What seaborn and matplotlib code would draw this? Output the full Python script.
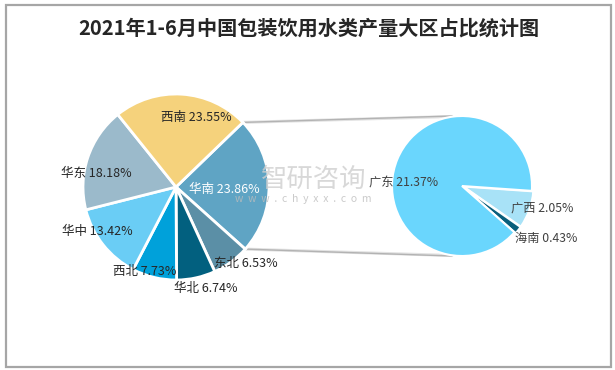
import matplotlib
matplotlib.use("Agg")
import matplotlib.pyplot as plt
from matplotlib.patches import Rectangle
import seaborn as sns
import numpy as np
import pandas as pd

# main pie: regions (clockwise from 华南)
regions = ["华南", "东北", "华北", "西北", "华中", "华东", "西南"]
shares = [23.86, 6.53, 6.74, 7.73, 13.42, 18.18, 23.55]
region_colors = ["#5FA4C4", "#5B8FA6", "#02607F", "#00A1DA", "#6ACDF5", "#9BBACB", "#F5D27C"]

# secondary pie: provinces of 华南
provinces = ["广西", "海南", "广东"]
prov_shares = [2.05, 0.43, 21.37]
prov_colors = ["#A8E2F7", "#0A5F7C", "#6AD6FD"]

title = "2021年1-6月中国包装饮用水类产量大区占比统计图"

main = pd.DataFrame({"region": regions, "share": shares, "color": region_colors})
sub = pd.DataFrame({"province": provinces, "share": prov_shares, "color": prov_colors})

sns.set_theme(style="white")
plt.rcParams["font.family"] = ["Noto Sans CJK SC", "DejaVu Sans"]

fig = plt.figure(figsize=(6.15, 3.7), dpi=100)
ax = fig.add_axes([0, 0, 1, 1])
ax.axis("off")

# frame around the chart
fig.patches.append(Rectangle((6 / 615, 3 / 370), 605 / 615, 362 / 370, transform=fig.transFigure,
                             fill=False, edgecolor="#a6a6a6", lw=1.6))

c1, r1 = (176, 183), 93
c2, r2 = (462, 184), 70
start1 = 44
start2 = -4

wedges1, _ = ax.pie(main["share"], colors=main["color"], startangle=start1, counterclock=False,
                    center=c1, radius=r1, wedgeprops=dict(edgecolor="white", linewidth=2))
wedges2, _ = ax.pie(sub["share"], colors=sub["color"], startangle=start2, counterclock=False,
                    center=c2, radius=r2, explode=[1.5, 1.5, 0],
                    wedgeprops=dict(edgecolor="white", linewidth=1.5))
ax.set_xlim(0, 615)
ax.set_ylim(0, 370)
ax.set_aspect("equal")

# watermark
ax.text(314, 191, "智研咨询", fontsize=19, color="#cfcfcf", ha="center", va="center", alpha=0.8, zorder=5)
ax.text(303, 171, "w  w  w  .  c  h  y  x  x  .  c  o  m", fontsize=7.5, color="#bdbdbd",
        ha="center", va="center", alpha=0.8, zorder=5)

# connector lines between the 华南 wedge and the secondary pie
a_top = np.deg2rad(start1)
a_bot = np.deg2rad(start1 - shares[0] / 100 * 360)
p_top = (c1[0] + r1 * np.cos(a_top), c1[1] + r1 * np.sin(a_top))
p_bot = (c1[0] + r1 * np.cos(a_bot), c1[1] + r1 * np.sin(a_bot))
for p, sgn in [(p_top, 1), (p_bot, -1)]:
    ax.plot([p[0], c2[0] - 10], [p[1], c2[1] + sgn * (r2 - 0.5)], color="#e2e2e2", lw=2.2, zorder=0)
    ax.plot([p[0], c2[0] - 10], [p[1], c2[1] + sgn * r2], color="#b3b3b3", lw=1.0, zorder=0)

# labels: radial factor and angle nudge per wedge
main_r = [0.52, 1.12, 1.14, 0.97, 0.97, 0.87, 0.78]
main_nudge = [-4, 6, 4, -7, -9, 9, -13]
main_textcol = ["white", "#262626", "#262626", "#262626", "#262626", "#262626", "#262626"]
for w, name, val, rf, nd, tc in zip(wedges1, regions, shares, main_r, main_nudge, main_textcol):
    ang = np.deg2rad((w.theta1 + w.theta2) / 2 + nd)
    x = c1[0] + rf * r1 * np.cos(ang)
    y = c1[1] + rf * r1 * np.sin(ang)
    ax.text(x, y, f"{name} {val:.2f}%", fontsize=9, color=tc, ha="center", va="center",
            fontweight="medium", zorder=6)

sub_r = [1.19, 1.42, 0.83]
sub_nudge = [4, 6, 20]
for w, name, val, rf, nd in zip(wedges2, provinces, prov_shares, sub_r, sub_nudge):
    ang = np.deg2rad((w.theta1 + w.theta2) / 2 + nd)
    x = c2[0] + rf * r2 * np.cos(ang)
    y = c2[1] + rf * r2 * np.sin(ang)
    ax.text(x, y, f"{name} {val:.2f}%", fontsize=8.8, color="#404040", ha="center", va="center",
            zorder=6)

ax.text(309, 342, title, fontsize=14.5, fontweight="bold", color="#262626", ha="center", va="center")

fig.savefig("out.png", dpi=100)
